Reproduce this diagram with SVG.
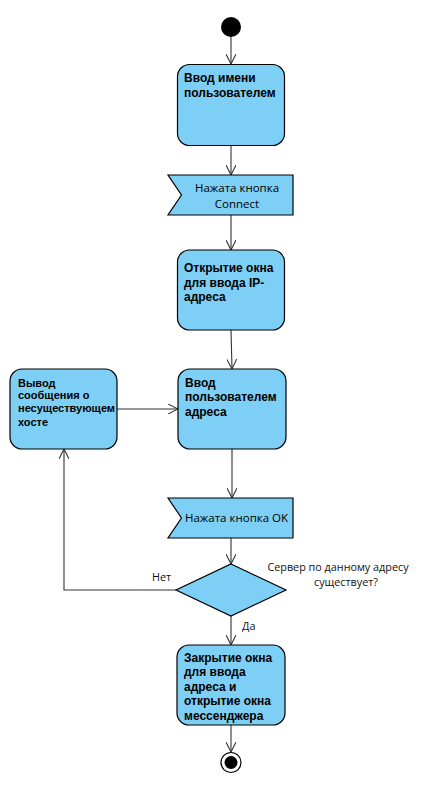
<svg xmlns="http://www.w3.org/2000/svg" width="436" height="788" viewBox="0 0 436 788">
<defs>
<style>
.node{fill:#7ecff5;stroke:#000;stroke-width:1.2}
.b{font-family:"Liberation Sans",Arial,sans-serif;font-weight:bold;font-size:12px;fill:#000}
.bs{font-family:"Liberation Sans",Arial,sans-serif;font-weight:bold;font-size:11px;fill:#000}
.s{font-family:"Open Sans","Noto Sans",sans-serif;font-size:11.5px;fill:#000}
.l{font-family:"Open Sans","Noto Sans",sans-serif;font-size:10.8px;fill:#111}
.c{fill:none;stroke:#333;stroke-width:1.1}
</style>
<marker id="arr" viewBox="0 0 10 10" refX="10" refY="5" markerWidth="10" markerHeight="10" markerUnits="userSpaceOnUse" orient="auto">
<path d="M0,0 L10,5 L0,10" fill="none" stroke="#333" stroke-width="1.1"/>
</marker>
</defs>
<rect width="436" height="788" fill="#fff"/>
<g id="connectors">
<line class="c" x1="231" y1="37" x2="231" y2="64" marker-end="url(#arr)"/>
<line class="c" x1="231" y1="145" x2="231" y2="175" marker-end="url(#arr)"/>
<line class="c" x1="231" y1="215" x2="231" y2="250" marker-end="url(#arr)"/>
<line class="c" x1="231" y1="330" x2="232" y2="369" marker-end="url(#arr)"/>
<line class="c" x1="117" y1="409" x2="178" y2="409" marker-end="url(#arr)"/>
<line class="c" x1="232" y1="449" x2="232" y2="498" marker-end="url(#arr)"/>
<line class="c" x1="231" y1="538" x2="231" y2="564" marker-end="url(#arr)"/>
<polyline class="c" points="176,590 64,590 64,449" marker-end="url(#arr)"/>
<line class="c" x1="231" y1="616" x2="231" y2="645" marker-end="url(#arr)"/>
<line class="c" x1="231" y1="725" x2="231" y2="752" marker-end="url(#arr)"/>
<text class="l" x="152" y="581">Нет</text>
<text class="l" x="242" y="630">Да</text>
</g>
<g id="start"><circle cx="231" cy="27" r="10" fill="#000"/></g>
<g id="n1">
<rect class="node" x="177.5" y="64.5" width="107" height="81" rx="12"/>
<text class="b" x="184" y="82">Ввод имени</text>
<text class="b" x="184" y="97">пользователем</text>
</g>
<g id="sig1">
<polygon class="node" points="168,175 293,175 293,215 168,215 181.5,195"/>
<text class="s" x="237" y="192" text-anchor="middle">Нажата кнопка</text>
<text class="s" x="237" y="207.5" text-anchor="middle">Connect</text>
</g>
<g id="n2">
<rect class="node" x="177.5" y="250" width="107" height="80" rx="12"/>
<text class="b" x="184" y="272">Открытие окна</text>
<text class="b" x="184" y="287">для ввода IP-</text>
<text class="b" x="184" y="301">адреса</text>
</g>
<g id="n3">
<rect class="node" x="178" y="369" width="108" height="80" rx="12"/>
<text class="b" x="185" y="387">Ввод</text>
<text class="b" x="185" y="401">пользователем</text>
<text class="b" x="185" y="416">адреса</text>
</g>
<g id="n4">
<rect class="node" x="10" y="369" width="107" height="80" rx="12"/>
<text class="bs" x="18" y="387">Вывод</text>
<text class="bs" x="18" y="399">сообщения о</text>
<text class="bs" x="18" y="412">несуществующем</text>
<text class="bs" x="18" y="426">хосте</text>
</g>
<g id="sig2">
<polygon class="node" points="168,498 293,498 293,538 168,538 181.5,518"/>
<text class="s" x="185" y="522">Нажата кнопка OK</text>
</g>
<g id="dec">
<polygon class="node" points="231,564 286,590 231,616 176,590"/>
<text class="l" x="338" y="571" text-anchor="middle">Сервер по данному адресу</text>
<text class="l" x="346" y="586" text-anchor="middle">существует?</text>
</g>
<g id="n5">
<rect class="node" x="177" y="645" width="108" height="80" rx="12"/>
<text class="b" x="184" y="662">Закрытие окна</text>
<text class="b" x="184" y="676">для ввода</text>
<text class="b" x="184" y="691">адреса и</text>
<text class="b" x="184" y="705">открытие окна</text>
<text class="b" x="184" y="720">мессенджера</text>
</g>
<g id="end">
<circle cx="231" cy="762.5" r="10" fill="#fff" stroke="#000" stroke-width="1.2"/>
<circle cx="231" cy="762.5" r="6.5" fill="#000"/>
</g>
</svg>
